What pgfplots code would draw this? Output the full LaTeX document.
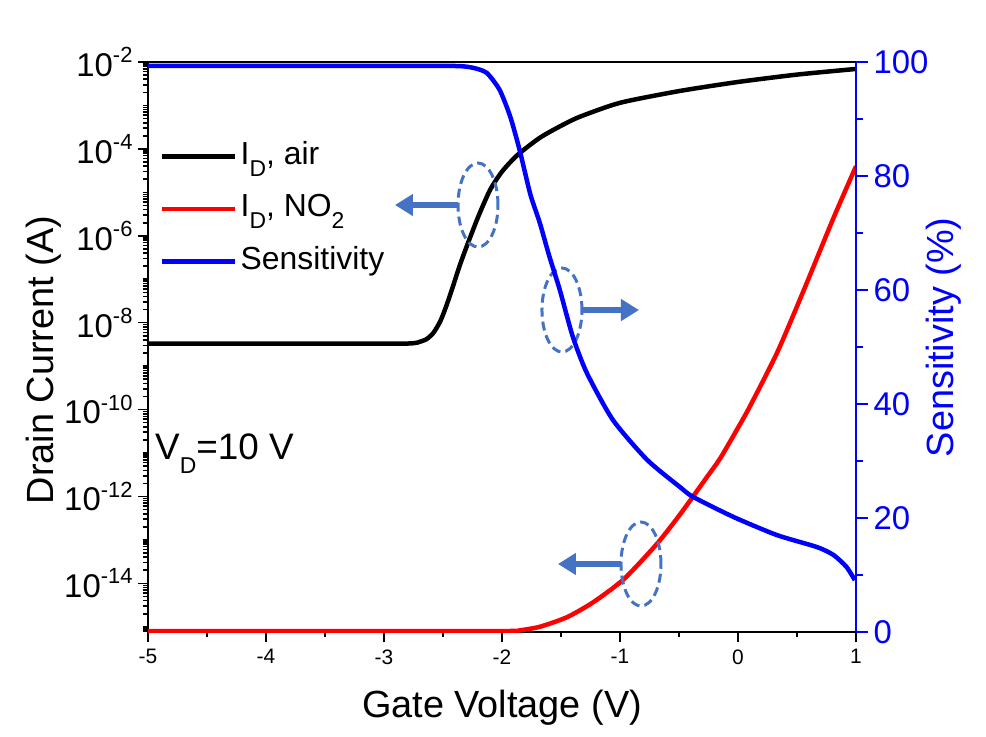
\documentclass[border=0pt]{standalone}
\usepackage{pgfplots}
\pgfplotsset{compat=1.18}
\usepackage{fontspec}
\setmainfont{Liberation Sans}
\usetikzlibrary{arrows.meta}

\definecolor{annot}{RGB}{68,114,196}

\newcommand\tsup[1]{\raisebox{0.42em}{\fontsize{22}{22}\selectfont #1}}
\newcommand\tsub[1]{\raisebox{-0.38em}{\fontsize{23}{23}\selectfont #1}}

% minor ticks of the log axis
\def\mylist{}
\pgfplotsforeachungrouped \e in {-16,...,-3}{%
  \pgfplotsforeachungrouped \m in {1,...,9}{%
    \edef\mylist{\mylist\m e\e,}%
  }%
}
\edef\mylist{\mylist 1e-2}

\begin{document}
\begin{tikzpicture}

\begin{axis}[
  name=main,
  scale only axis,
  width=708bp, height=570bp,
  xmin=-5, xmax=1,
  ymode=log,
  ymin=7.59e-16, ymax=1e-2,
  axis line style={line width=1.6bp},
  tick pos=left,
  tick align=outside,
  major tick length=10bp,
  minor tick length=5bp,
  every tick/.style={black, line width=1.6bp},
  xtick={-5,-4,-3,-2,-1,0,1},
  xticklabels={-5,-4,-3,-2,-1,0,1},
  minor xtick={-4.5,-3.5,-2.5,-1.5,-0.5,0.5},
  xticklabel style={font=\fontsize{21}{21}\selectfont, yshift=-4bp},
  ytick={1e-14,1e-12,1e-10,1e-8,1e-6,1e-4,1e-2},
  yticklabels={10\tsup{-14},10\tsup{-12},10\tsup{-10},10\tsup{-8},10\tsup{-6},10\tsup{-4},10\tsup{-2}},
  minor ytick/.expand once=\mylist,
  yticklabel style={font=\fontsize{33}{33}\selectfont, xshift=-2bp},
  xlabel={Gate Voltage (V)},
  xlabel style={font=\fontsize{38}{40}\selectfont, at={(rel axis cs:0.5,-0.1333)}, anchor=center},
  ylabel={Drain Current (A)},
  ylabel style={font=\fontsize{38}{40}\selectfont, at={(rel axis cs:-0.1480,0.477)}, anchor=center},
  legend style={draw=none, fill=none, at={(0.017,0.867)}, anchor=north west,
    font=\fontsize{32}{36}\selectfont, row sep=15.5bp, inner sep=0pt,
    nodes={inner sep=3bp, text height=23bp, text depth=8bp}},
  legend cell align=left,
  legend image code/.code={\draw[#1] (0bp,0bp) -- (73bp,0bp);},
]

\addplot[black, line width=4.5bp, smooth, tension=0.4] table {
x y
-5.00 3.31e-9
-4.00 3.31e-9
-3.00 3.31e-9
-2.80 3.31e-9
-2.72 3.47e-9
-2.64 4.17e-9
-2.58 5.89e-9
-2.52 1.12e-8
-2.47 2.51e-8
-2.42 6.31e-8
-2.36 2.00e-7
-2.30 5.62e-7
-2.20 2.82e-6
-2.10 1.15e-5
-2.00 3.00e-5
-1.87 7.20e-5
-1.68 1.80e-4
-1.50 3.40e-4
-1.34 5.50e-4
-1.00 1.15e-3
-0.50 2.14e-3
0.00 3.47e-3
0.50 5.13e-3
1.00 6.92e-3
};
\addlegendentry{I\tsub{D}, air}

\addplot[red, line width=4.5bp, smooth, tension=0.4] table {
x y
-5.00 8.0e-16
-4.00 8.0e-16
-3.00 8.0e-16
-1.95 8.0e-16
-1.85 8.3e-16
-1.68 1.0e-15
-1.45 1.66e-15
-1.23 3.63e-15
-0.97 1.23e-14
-0.69 7.94e-14
-0.49 3.90e-13
-0.26 2.88e-12
-0.15 7.60e-12
0.00 3.80e-11
0.10 1.17e-10
0.33 2.00e-9
0.55 5.00e-8
0.81 2.60e-6
1.00 3.98e-5
};
\addlegendentry{I\tsub{D}, NO\tsub{2}}

\addlegendimage{blue, line width=4.5bp}
\addlegendentry{Sensitivity}

\node[anchor=base west, font=\fontsize{37}{38}\selectfont, inner sep=0pt]
  at (rel axis cs:0.0099,0.3035) {V\tsub{D}=10 V};

% dashed ellipses with arrows
\draw[annot, line width=3bp, dash pattern=on 9bp off 5bp]
  (rel axis cs:0.4661,0.7491) ellipse [x radius=20bp, y radius=42bp];
\draw[annot, line width=6.5bp, -{Triangle[length=18bp,width=21bp]}]
  ([xshift=-20bp]rel axis cs:0.4661,0.7491) -- ([xshift=-83bp]rel axis cs:0.4661,0.7491);

\draw[annot, line width=3bp, dash pattern=on 9bp off 5bp]
  (rel axis cs:0.5847,0.5649) ellipse [x radius=20bp, y radius=42bp];
\draw[annot, line width=6.5bp, -{Triangle[length=18bp,width=21bp]}]
  ([xshift=20bp]rel axis cs:0.5847,0.5649) -- ([xshift=77bp]rel axis cs:0.5847,0.5649);

\draw[annot, line width=3bp, dash pattern=on 9bp off 5bp]
  (rel axis cs:0.6963,0.1193) ellipse [x radius=20bp, y radius=42bp];
\draw[annot, line width=6.5bp, -{Triangle[length=18bp,width=21bp]}]
  ([xshift=-20bp]rel axis cs:0.6963,0.1193) -- ([xshift=-83bp]rel axis cs:0.6963,0.1193);
\end{axis}

\begin{axis}[
  scale only axis,
  width=708bp, height=570bp,
  xmin=-5, xmax=1,
  ymin=0, ymax=100,
  axis x line=none,
  axis y line*=right,
  y axis line style={blue, line width=1.6bp, -},
  tick align=outside,
  major tick length=12bp,
  minor tick length=7bp,
  every tick/.style={blue, line width=1.6bp},
  ytick={0,20,40,60,80,100},
  yticklabels={0,20,40,60,80,100},
  minor ytick={10,30,50,70,90},
  yticklabel style={blue, font=\fontsize{33}{33}\selectfont, xshift=2bp},
  ylabel={Sensitivity (\%)},
  ylabel style={blue, font=\fontsize{38}{40}\selectfont, at={(rel axis cs:1.1243,0.517)}, anchor=center, rotate=0},
]
\addplot[blue, line width=4.5bp, smooth, tension=0.4] table {
x y
-5.00 99.3
-4.00 99.3
-3.00 99.3
-2.40 99.3
-2.25 99.0
-2.13 98.1
-2.02 95.1
-1.93 90.4
-1.85 84.5
-1.76 76.8
-1.68 71.8
-1.60 66.0
-1.51 60.0
-1.40 51.8
-1.28 45.4
-1.06 37.2
-0.77 30.2
-0.49 25.4
-0.38 23.7
-0.04 20.2
0.33 17.0
0.67 14.9
0.81 13.5
0.92 11.4
0.99 9.1
};
\end{axis}

\path (main.south west) ++(-148bp,-105bp) rectangle ++(986bp,737bp);
\end{tikzpicture}
\end{document}
